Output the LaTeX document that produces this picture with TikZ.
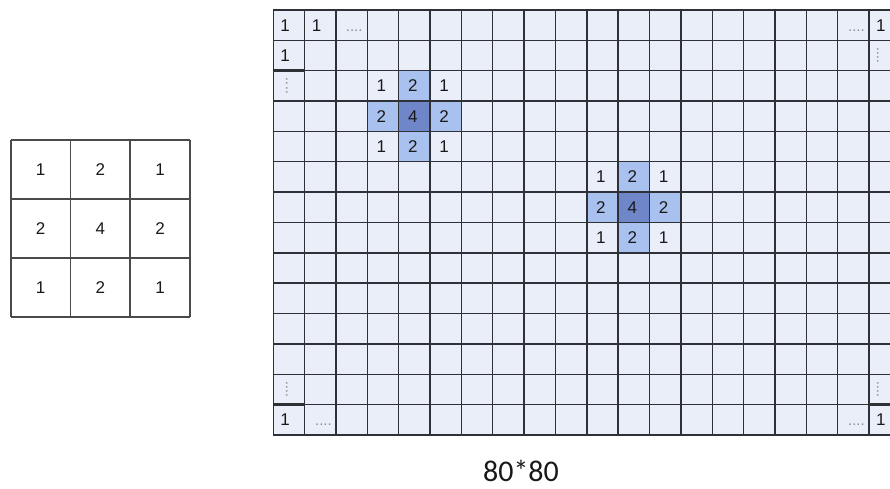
\documentclass[tikz,border=0pt]{standalone}
\usepackage{fontspec}
\setmainfont{Liberation Sans}
\newfontfamily\labelfont{Carlito}
\usetikzlibrary{positioning}

\definecolor{cellbg}{HTML}{E9EEF9}
\definecolor{kedge}{HTML}{A9C1EE}
\definecolor{kmid}{HTML}{6F87C8}
\definecolor{gridln}{HTML}{2E3135}
\definecolor{maskln}{HTML}{4A4A4A}
\definecolor{dotcol}{HTML}{8A8F9A}

\begin{document}
\begin{tikzpicture}[
  x=1pt,y=-1pt,
  num/.style={font=\fontsize{17}{17}\selectfont,text=black!90,inner sep=0pt},
  dots/.style={font=\fontsize{15}{15}\selectfont,text=dotcol,inner sep=0pt,anchor=base},
  vdots/.style={dots,anchor=center,rotate=90},
  gline/.style={draw=gridln,line width=1.4pt},
  heavy/.style={draw=gridln,line width=2.6pt},
  mline/.style={draw=maskln,line width=1.8pt}
]
\useasboundingbox (0,0) rectangle (890,488);
\clip (0,0) rectangle (890,488);

% 3x3 mask
\begin{scope}[shift={(10.7,140)},x=59.8pt,y=-59pt]
  \fill[white] (0,0) rectangle (3,3);
  \foreach \i in {0,...,3} {
    \draw[mline] (\i,0) -- (\i,3);
    \draw[mline] (0,\i) -- (3,\i);
  }
  \foreach \c/\r/\v [count=\i] in {1/1/1,2/1/2,3/1/1,1/2/2,2/2/4,3/2/2,1/3/1,2/3/2,3/3/1}
    \node[num] (m\i) at (\c-0.5,\r-0.5) {\v};
\end{scope}

% 80x80 image
\begin{scope}[shift={(273.3,10)},x=31.35pt,y=-30.35pt]
  \fill[cellbg] (0,0) rectangle (20,14);
  \foreach \c/\r in {5/3,4/4,6/4,5/5,12/6,11/7,13/7,12/8}
    \fill[kedge] (\c-1,\r-1) rectangle (\c,\r);
  \foreach \c/\r in {5/4,12/7}
    \fill[kmid] (\c-1,\r-1) rectangle (\c,\r);
  \foreach \c in {0,...,20}
    \draw[gline] (\c,0) -- (\c,14);
  \foreach \r in {0,...,14}
    \draw[gline] (0,\r) -- (20,\r);
  \draw[heavy] (0,2) -- (1,2);
  \draw[heavy] (19,1) -- (19,2);
  \draw[heavy] (0,13) -- (1,13);
  \draw[heavy] (19,12) -- (19,13) -- (20,13);

  % two placed masks
  \foreach \c/\r/\v [count=\i] in {4/3/1,5/3/2,6/3/1,4/4/2,5/4/4,6/4/2,4/5/1,5/5/2,6/5/1}
    \node[num] (ka\i) at (\c-0.55,\r-0.5) {\v};
  \foreach \c/\r/\v [count=\i] in {11/6/1,12/6/2,13/6/1,11/7/2,12/7/4,13/7/2,11/8/1,12/8/2,13/8/1}
    \node[num] (kb\i) at (\c-0.55,\r-0.5) {\v};

  % border values
  \foreach \c/\r [count=\i] in {1/1,2/1,20/1,1/2,1/14,20/14}
    \node[num,anchor=west] (b\i) at (\c-0.78,\r-0.5) {1};
  \node[dots] (d1) at (2.58,0.7) {....};
  \node[dots] (d2) at (18.6,0.7) {....};
  \node[dots] (d3) at (1.6,13.7) {....};
  \node[dots] (d4) at (18.6,13.7) {....};
  \node[vdots] (v1) at (0.43,2.5) {....};
  \node[vdots] (v2) at (19.28,1.5) {....};
  \node[vdots] (v3) at (0.43,12.5) {....};
  \node[vdots] (v4) at (19.28,12.5) {....};
\end{scope}

\node[font=\labelfont\fontsize{30}{30}\selectfont,text=black!90,inner sep=0pt,anchor=base] (size) at (521,481.5) {80*80};
\end{tikzpicture}
\end{document}
